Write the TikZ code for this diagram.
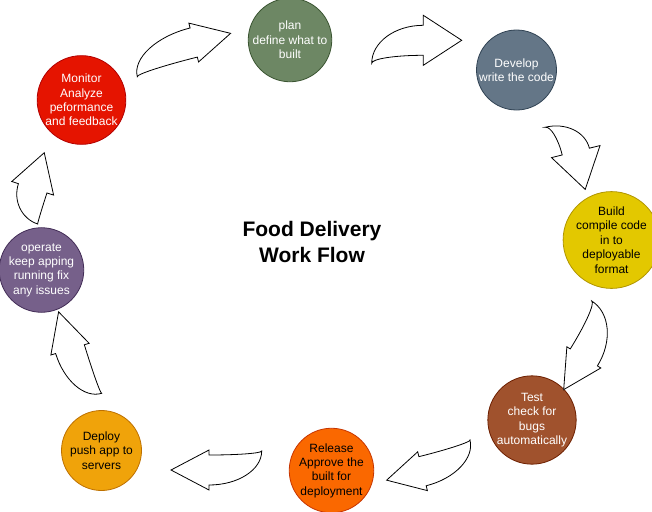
\documentclass[tikz,border=0pt]{standalone}
\usepackage{fontspec}
\setmainfont{Liberation Sans}
\usepackage{tikz}
\definecolor{monitorfill}{HTML}{E51400}
\definecolor{monitordraw}{HTML}{B20000}
\definecolor{planfill}{HTML}{6D8764}
\definecolor{plandraw}{HTML}{3A5431}
\definecolor{developfill}{HTML}{647687}
\definecolor{developdraw}{HTML}{314354}
\definecolor{buildfill}{HTML}{E3C800}
\definecolor{builddraw}{HTML}{B09500}
\definecolor{testfill}{HTML}{A0522D}
\definecolor{testdraw}{HTML}{6D1F00}
\definecolor{releasefill}{HTML}{FA6800}
\definecolor{releasedraw}{HTML}{C73500}
\definecolor{deployfill}{HTML}{F0A30A}
\definecolor{deploydraw}{HTML}{BD7000}
\definecolor{operatefill}{HTML}{76608A}
\definecolor{operatedraw}{HTML}{432D57}
\tikzset{font=\fontsize{12}{14.4}\selectfont}
\tikzstyle{stage}=[circle,minimum size=80pt,inner sep=0pt,align=center,line width=0.8pt]
\tikzstyle{barrow}=[draw=black,fill=white,line width=0.8pt,line join=miter]
% tail, turn, shaft, head length, head width, height, half shaft
\newcommand{\blockarrow}[7]{%
\draw[barrow,shift={#1},rotate=#2]
(#3,{-(#6)+(#5)/2+(#7)}) arc[start angle=270,end angle=180,x radius=#3,y radius={(#6)-(#5)/2-(#7)}]
arc[start angle=180,end angle=270,x radius=#3,y radius={(#6)-(#5)/2+(#7)}]
-- (#3,-#6) -- ({#3+#4},{-(#6)+(#5)/2}) -- (#3,{-(#6)+(#5)}) -- cycle;}

\begin{document}
\begin{tikzpicture}[x=1pt,y=-1pt]
\useasboundingbox (0,0) rectangle (652,511);
\node[stage,fill=monitorfill,draw=monitordraw,text=white] (monitor) at (81.5,100) {Monitor\\Analyze\\peformance\\and feedback};
\node[stage,fill=planfill,draw=plandraw,text=white] (plan) at (290,40) {plan\\define what to\\built};
\node[stage,fill=developfill,draw=developdraw,text=white] (develop) at (516.5,70) {Develop\\write the code};
\node[stage,fill=buildfill,draw=builddraw,text=black] (build) at (611.5,240) {Build\\compile code\\in to\\deployable\\format};
\node[stage,fill=testfill,draw=testdraw,text=white] (test) at (532,420) {Test\\check for\\bugs\\automatically};
\node[stage,fill=releasefill,draw=releasedraw,text=black] (release) at (331.5,470.5) {Release\\Approve the\\built for\\deployment};
\node[stage,fill=deployfill,draw=deploydraw,text=black] (deploy) at (101.5,450.5) {Deploy\\push app to\\servers};
\node[stage,fill=operatefill,draw=operatedraw,text=white] (operate) at (41.5,270) {operate\\keep apping\\running fix\\any issues};
\node[align=center,font=\fontsize{21}{25.5}\selectfont\bfseries] (title) at (312,242) {Food Delivery\\Work Flow};

\blockarrow{(137.3,76.7)}{14}{63}{38}{40}{39.5}{15}
\blockarrow{(371.7,63.3)}{0}{51.6}{38.4}{50}{48}{15}
\blockarrow{(545,127.3)}{-76}{31}{39}{50}{49}{14}
\blockarrow{(591.7,301)}{-122}{52}{38}{40}{43.2}{16}
\blockarrow{(470,440)}{-166}{53.6}{37}{40}{38.8}{15}
\blockarrow{(261.7,451)}{180}{52.7}{38}{40}{39}{15}
\blockarrow{(101.7,393.3)}{107}{51.5}{39}{40}{37.4}{15}
\blockarrow{(37.7,224)}{72}{32.4}{37.4}{44}{37.8}{15}
\end{tikzpicture}
\end{document}
